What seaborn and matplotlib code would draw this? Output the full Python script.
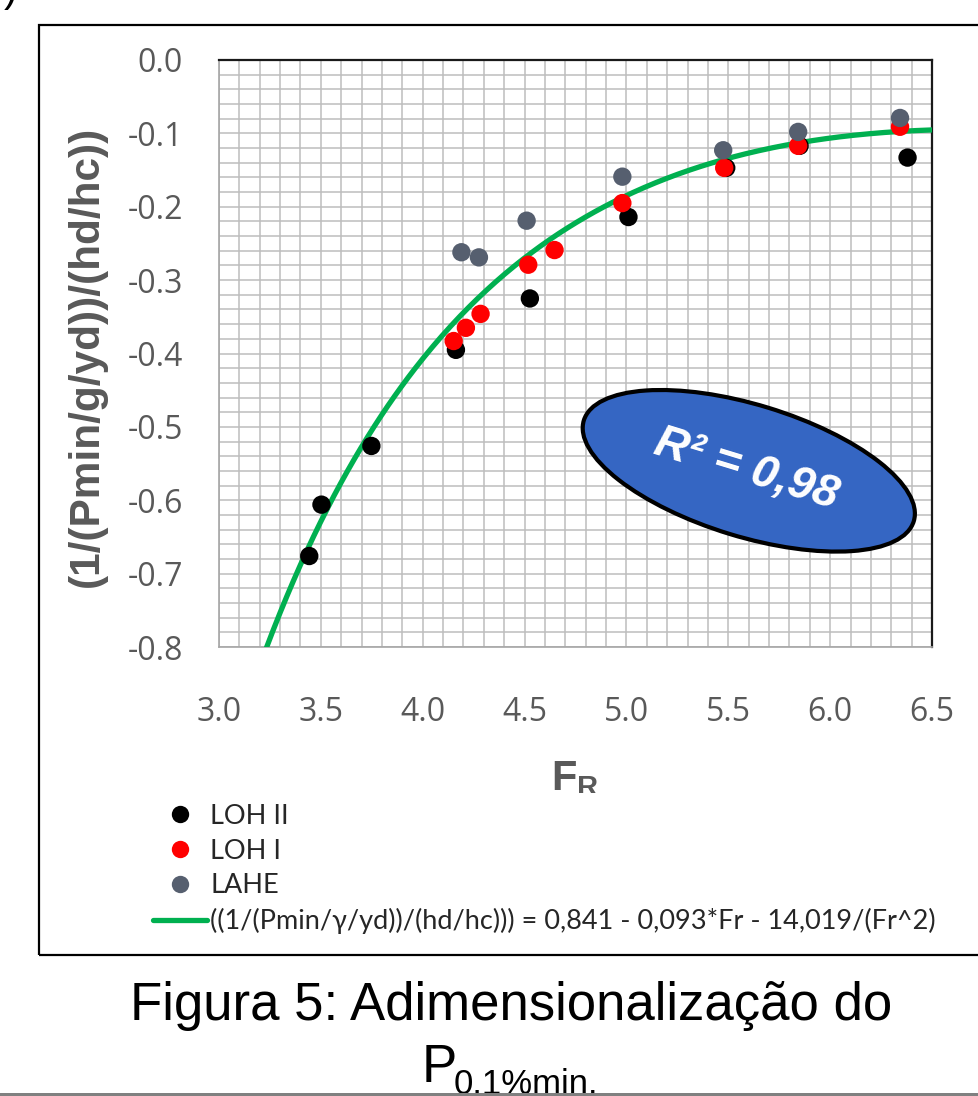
import numpy as np
import pandas as pd
import matplotlib
matplotlib.use("Agg")
import matplotlib.pyplot as plt
import matplotlib.patches as mpatches
from matplotlib.lines import Line2D
from matplotlib.ticker import MultipleLocator, FormatStrFormatter
import seaborn as sns

# ---------------- data ----------------
loh2_x = [3.443, 3.503, 3.748, 4.163, 4.526, 5.010, 5.490, 5.850, 6.380]
loh2_y = [-0.676, -0.606, -0.526, -0.395, -0.325, -0.214, -0.147, -0.117, -0.133]

loh1_x = [4.152, 4.212, 4.284, 4.518, 4.647, 4.980, 5.480, 5.843, 6.343]
loh1_y = [-0.383, -0.365, -0.346, -0.279, -0.259, -0.195, -0.147, -0.117, -0.091]

lahe_x = [4.190, 4.276, 4.510, 4.980, 5.475, 5.843, 6.343]
lahe_y = [-0.262, -0.269, -0.219, -0.159, -0.123, -0.098, -0.079]

series_names = ["LOH II", "LOH I", "LAHE"]
series_colors = ["#000000", "#ff0000", "#565f6f"]

# fitted model shown in the legend: y = a - b*Fr - c/Fr^2
fit_a, fit_b, fit_c = 0.841, 0.093, 14.019
fit_label = "((1/(Pmin/\u03b3/yd))/(hd/hc))) = 0,841 - 0,093*Fr - 14,019/(Fr^2)"

x_ticks = [3.0, 3.5, 4.0, 4.5, 5.0, 5.5, 6.0, 6.5]
y_ticks = [0.0, -0.1, -0.2, -0.3, -0.4, -0.5, -0.6, -0.7, -0.8]

r2_text = "R\u00b2 = 0,98"
y_label = "(1/(Pmin/g/yd))/(hd/hc))"
caption1 = "Figura 5: Adimensionaliza\u00e7\u00e3o do"

# ---------------- style ----------------
sns.set_style("white")
plt.rcParams["font.family"] = ["Open Sans", "DejaVu Sans"]
plt.rcParams["mathtext.fontset"] = "custom"
plt.rcParams["mathtext.bf"] = "Liberation Sans:bold"
plt.rcParams["mathtext.rm"] = "Liberation Sans"

W, H = 979, 1096
fig = plt.figure(figsize=(W / 100, H / 100), dpi=100)
ax = fig.add_axes([219 / W, 1 - 647 / H, (932 - 219) / W, (647 - 60) / H])

df = pd.DataFrame({
    "Fr": loh2_x + loh1_x + lahe_x,
    "val": loh2_y + loh1_y + lahe_y,
    "serie": [series_names[0]] * len(loh2_x) + [series_names[1]] * len(loh1_x)
             + [series_names[2]] * len(lahe_x),
})
pal = dict(zip(series_names, series_colors))

fr_line = np.linspace(3.2, 6.5, 300)
val_line = fit_a - fit_b * fr_line - fit_c / fr_line ** 2
sns.lineplot(x=fr_line, y=val_line, color="#00b050", linewidth=3.8, ax=ax,
             zorder=3, legend=False)

sns.scatterplot(data=df, x="Fr", y="val", hue="serie", palette=pal, s=175,
                edgecolor="none", linewidth=0, ax=ax, legend=False, zorder=4)

ax.set_xlim(3.0, 6.5)
ax.set_ylim(-0.8, 0.0)
ax.set_xticks(x_ticks)
ax.set_yticks(y_ticks)
ax.xaxis.set_major_formatter(FormatStrFormatter("%.1f"))
ax.yaxis.set_major_formatter(FormatStrFormatter("%.1f"))
ax.xaxis.set_minor_locator(MultipleLocator(0.1))
ax.yaxis.set_minor_locator(MultipleLocator(0.02))
ax.grid(True, which="both", color="#bdbdbd", linewidth=1.1)
ax.set_axisbelow(True)
ax.tick_params(which="both", length=0)
ax.tick_params(axis="x", pad=35, labelsize=23, labelcolor="#595959")
ax.tick_params(axis="y", pad=26, labelsize=23, labelcolor="#595959")

for s in ["top", "right"]:
    ax.spines[s].set_color("#1a1a1a")
    ax.spines[s].set_linewidth(1.6)
for s in ["left", "bottom"]:
    ax.spines[s].set_color("#a6a6a6")
    ax.spines[s].set_linewidth(1.2)

ax.set_ylabel(y_label, fontsize=30.5, fontweight="bold", color="#595959",
              family="Liberation Sans")
ax.yaxis.set_label_coords((107 - 219) / 713, 0.495)
ax.set_xlabel(r"$\mathbf{F}_{\mathbf{R}}$", fontsize=30, color="#595959")
ax.xaxis.set_label_coords(0.5, (647 - 758) / 587)

# R^2 ellipse annotation
ell = mpatches.Ellipse((748.8 / 100, (H - 470.8) / 100), 3.45, 1.32, angle=-17,
                       transform=fig.dpi_scale_trans, facecolor="#3566c3",
                       edgecolor="black", linewidth=3.0, zorder=6)
fig.add_artist(ell)
fig.text(746 / W, 1 - 470 / H, r2_text, rotation=-17, rotation_mode="anchor",
         ha="center", va="center", fontsize=33, fontweight="bold",
         fontstyle="italic", color="white", family="Liberation Sans", zorder=7)

# legend
handles = [Line2D([], [], marker="o", linestyle="none", markersize=12.5,
                  markerfacecolor=c, markeredgecolor="none") for c in series_colors]
handles.append(Line2D([], [], color="#00b050", linewidth=3.8))
labels = series_names + [fit_label]
leg_fs = 19.5
leg = fig.legend(handles, labels, loc="upper left",
                 bbox_to_anchor=(142 / W, 1 - 793 / H),
                 prop={"family": "Lato", "size": leg_fs}, frameon=True,
                 facecolor="white", edgecolor="none", framealpha=1,
                 borderpad=0.4, borderaxespad=0, handlelength=2.0,
                 handletextpad=0.12, labelspacing=0.36, fancybox=False)

# outer frame
frame = mpatches.Rectangle((39 / W, 1 - 955 / H), 1.0, (955 - 25) / H,
                           transform=fig.transFigure, fill=False,
                           edgecolor="black", linewidth=1.6, zorder=8)
fig.add_artist(frame)

# partial ")" at top-left
fig.text(4 / W, 1 - 10 / H, ")", fontsize=30, family="Liberation Sans",
         ha="left", va="bottom", color="black")

# caption
fig.text(511.5 / W, 1 - 1020 / H, caption1, fontsize=38,
         family="Liberation Sans", ha="center", va="baseline", color="black")
fig.text(422 / W, 1 - 1082 / H, "P", fontsize=38, family="Liberation Sans",
         ha="left", va="baseline", color="black")
fig.text(454 / W, 1 - 1094 / H, "0.1%min.", fontsize=25,
         family="Liberation Sans", ha="left", va="baseline", color="black")
bottom_line = mpatches.Rectangle((0, 0), 1, 3 / H, transform=fig.transFigure,
                                 facecolor="#808080", edgecolor="none", zorder=9)
fig.add_artist(bottom_line)

fig.savefig("out.png", dpi=100)
